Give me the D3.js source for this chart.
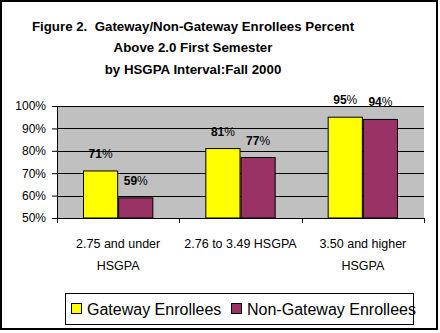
<!DOCTYPE html>
<html>
<head>
<meta charset="utf-8">
<script src="https://cdn.jsdelivr.net/npm/d3@7"></script>
<style>
  body { margin: 0; background: #fff; }
  text { font-family: "Liberation Sans", Arial, sans-serif; }
</style>
</head>
<body>
<svg id="chart" width="440" height="333"></svg>
<script>
let categories = [['2.75 and under', 'HSGPA'], ['2.76 to 3.49 HSGPA'], ['3.50 and higher', 'HSGPA']];
let gateway = [71, 81, 95];
let nonGateway = [59, 77, 94];
let seriesNames = ['Gateway Enrollees', 'Non-Gateway Enrollees'];
let seriesColors = ['#ffff00', '#993366'];
let yTicks = [50, 60, 70, 80, 90, 100];
let titleLines = ['Figure 2.  Gateway/Non-Gateway Enrollees Percent', 'Above 2.0 First Semester', 'by HSGPA Interval:Fall 2000'];

let svg = d3.select('#chart'),
    margin = {top: 106, left: 57},
    width = 367,
    height = 112;

svg.append('rect')
    .attr('x', 1).attr('y', 1)
    .attr('width', 436).attr('height', 328)
    .attr('fill', '#fff').attr('stroke', '#000').attr('stroke-width', 2);

svg.append('g').selectAll('text')
    .data(titleLines)
    .enter().append('text')
    .attr('x', 193)
    .attr('y', (d, i) => 30.5 + i * 21.5)
    .attr('text-anchor', 'middle')
    .attr('font-size', 13.3)
    .attr('font-weight', 'bold')
    .attr('xml:space', 'preserve')
    .text(d => d);

let x0 = d3.scaleBand().domain(d3.range(categories.length)).range([0, width]),
    x1 = d3.scaleBand().domain([0, 1]).range([26, x0.bandwidth() - 26]),
    y = d3.scaleLinear().domain([50, 100]).range([height, 0]);

let g = svg.append('g')
    .attr('transform', 'translate(' + margin.left + ',' + margin.top + ')');

g.append('rect')
    .attr('width', width).attr('height', height)
    .attr('fill', '#c0c0c0');

g.append('g')
    .selectAll('line')
    .data(yTicks.slice(1))
    .enter().append('line')
    .attr('x1', 0).attr('x2', width)
    .attr('y1', d => Math.round(y(d)) + 0.5).attr('y2', d => Math.round(y(d)) + 0.5)
    .attr('stroke', '#000');

let yAxis = g.append('g')
    .call(d3.axisLeft(y).tickValues(yTicks).tickFormat(d => d + '%').tickSize(5).tickPadding(6));
yAxis.select('.domain').attr('stroke', '#000');
yAxis.selectAll('text').attr('font-size', 12).attr('font-family', '"Liberation Sans", Arial, sans-serif').attr('fill', '#000');

let rows = categories.map((c, i) => [gateway[i], nonGateway[i]]);

let groups = g.selectAll('.grp')
    .data(rows)
    .enter().append('g')
    .attr('class', 'grp')
    .attr('transform', (d, i) => 'translate(' + x0(i) + ',0)');

groups.selectAll('rect')
    .data(d => d)
    .enter().append('rect')
    .attr('x', (d, j) => x1(j) + 0.5)
    .attr('y', d => y(d))
    .attr('width', x1.bandwidth() - 1)
    .attr('height', d => height - y(d))
    .attr('fill', (d, j) => seriesColors[j])
    .attr('stroke', '#000')
    .attr('stroke-width', 1);

let labels = groups.selectAll('text')
    .data(d => d)
    .enter().append('text')
    .attr('x', (d, j) => x1(j) + x1.bandwidth() / 2)
    .attr('y', d => y(d) - 13)
    .attr('text-anchor', 'middle')
    .attr('font-size', 12);
labels.append('tspan').attr('font-weight', 'bold').text(d => d);
labels.append('tspan').text('%');

// bottom axis line and category ticks
g.append('line')
    .attr('x1', 0).attr('x2', width)
    .attr('y1', height + 0.5).attr('y2', height + 0.5)
    .attr('stroke', '#000');
g.append('g').selectAll('line')
    .data(d3.range(categories.length + 1))
    .enter().append('line')
    .attr('x1', i => Math.round(i * x0.step()) + 0.5)
    .attr('x2', i => Math.round(i * x0.step()) + 0.5)
    .attr('y1', height).attr('y2', height + 5)
    .attr('stroke', '#000');

let catText = g.append('g').selectAll('text')
    .data(categories)
    .enter().append('text')
    .attr('x', (d, i) => x0(i) + x0.bandwidth() / 2)
    .attr('y', height + 30)
    .attr('text-anchor', 'middle')
    .attr('font-size', 12.5);
catText.selectAll('tspan')
    .data(d => d)
    .enter().append('tspan')
    .attr('x', function () { return this.parentNode.getAttribute('x'); })
    .attr('dy', (d, i) => i === 0 ? 0 : 22)
    .text(d => d);

// legend
let legend = svg.append('g').attr('transform', 'translate(65,293)');
legend.append('rect')
    .attr('x', 0.5).attr('y', 0.5)
    .attr('width', 348).attr('height', 31)
    .attr('fill', '#fff').attr('stroke', '#000');
let legX = [6, 166];
let items = legend.selectAll('.item')
    .data(seriesNames)
    .enter().append('g')
    .attr('class', 'item')
    .attr('transform', (d, i) => 'translate(' + legX[i] + ',0)');
items.append('rect')
    .attr('x', 0.5).attr('y', 10.5)
    .attr('width', 10).attr('height', 10)
    .attr('fill', (d, i) => seriesColors[i])
    .attr('stroke', '#000');
items.append('text')
    .attr('x', 16).attr('y', 22)
    .attr('font-size', 16)
    .text(d => d);
</script>
</body>
</html>
